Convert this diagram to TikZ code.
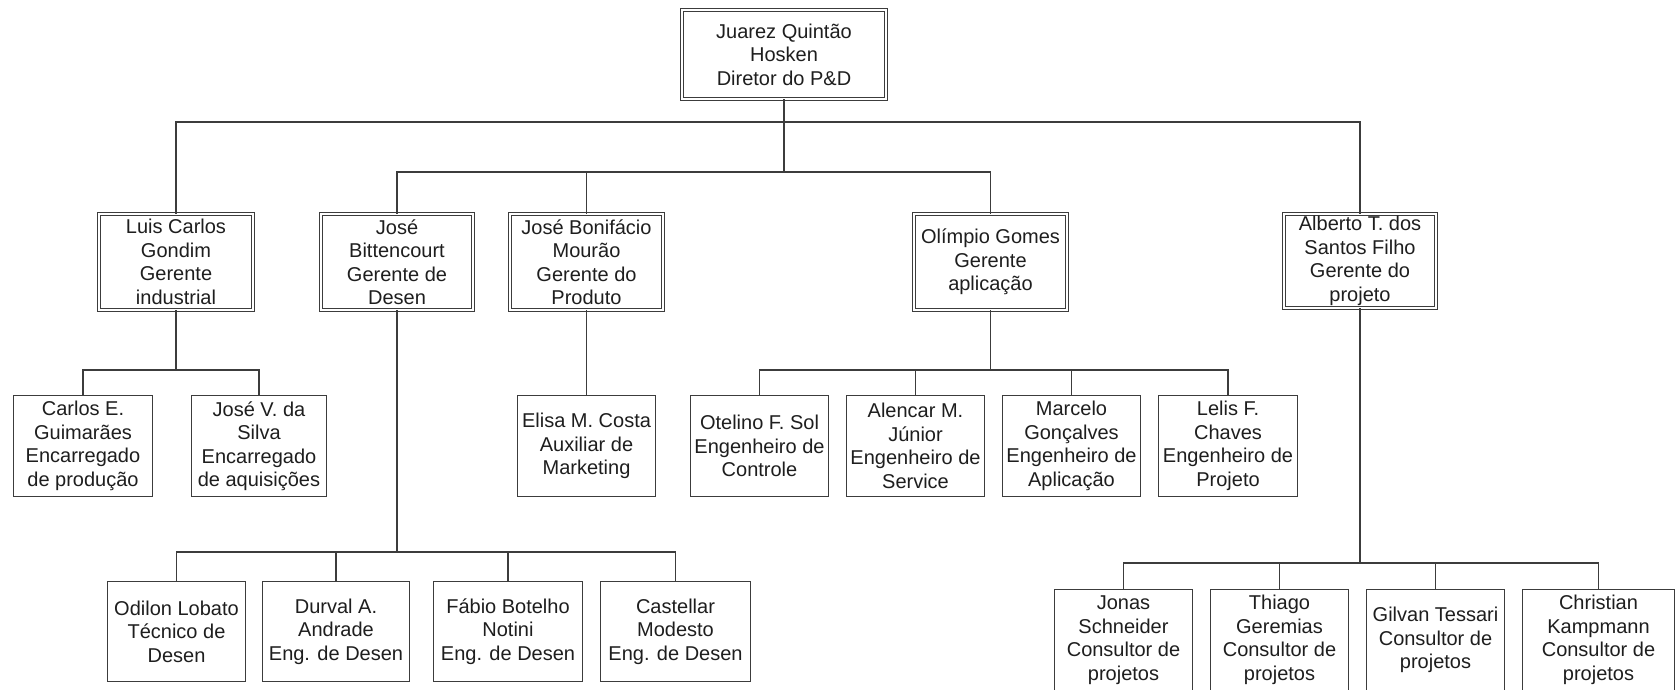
\documentclass[tikz,border=0pt]{standalone}
\usepackage{fontspec}
\setmainfont{Liberation Sans}
\definecolor{ln}{HTML}{3C3C3C}
\definecolor{txt}{HTML}{1E1E1E}
\begin{document}
\begin{tikzpicture}[x=1pt,y=-1pt,
  every node/.style={font=\fontsize{20}{23.5}\selectfont, text=txt, align=center, inner sep=0pt},
  box/.style={draw=ln, line width=1.3pt, fill=white, rectangle},
  mgr/.style={draw=ln, line width=1.1pt, double=white, double distance=2.2pt, rectangle},
  link/.style={draw=ln, line width=1.2pt}]
\useasboundingbox (0,0) rectangle (1679,689);
\fill[white] (0,0) rectangle (1679,689);
\clip (0,0) rectangle (1679,689);

% director
\node[mgr, minimum width=203.6pt, minimum height=88.6pt] (juarez) at (784,54.5)
  {Juarez Quintão\\Hosken\\Diretor do P\&D};

% managers
\node[mgr, minimum width=153.6pt, minimum height=95.6pt] (luis) at (176,262)
  {Luis Carlos\\Gondim\\Gerente\\industrial};
\node[mgr, minimum width=151.6pt, minimum height=95.6pt] (bitt) at (397,262)
  {José\\Bittencourt\\Gerente de\\Desen};
\node[mgr, minimum width=152.6pt, minimum height=95.6pt] (bonif) at (586.5,262)
  {José Bonifácio\\Mourão\\Gerente do\\Produto};
\node[mgr, minimum width=152.6pt, minimum height=95.6pt] (olimpio) at (990.5,262)
  {Olímpio Gomes\\Gerente\\aplicação};
\node[mgr, minimum width=151.6pt, minimum height=93.6pt] (alberto) at (1360,261)
  {Alberto T. dos\\Santos Filho\\Gerente do\\projeto};

% second level staff
\node[box, minimum width=138.7pt, minimum height=100.7pt] (carlos) at (83,446)
  {Carlos E.\\Guimarães\\Encarregado\\de produção};
\node[box, minimum width=134.7pt, minimum height=100.7pt] (josev) at (259,446)
  {José V. da\\Silva\\Encarregado\\de aquisições};
\node[box, minimum width=137.7pt, minimum height=100.7pt] (elisa) at (586.5,446)
  {Elisa M. Costa\\Auxiliar de\\Marketing};
\node[box, minimum width=137.7pt, minimum height=100.7pt] (otelino) at (759.5,446)
  {Otelino F. Sol\\Engenheiro de\\Controle};
\node[box, minimum width=137.7pt, minimum height=100.7pt] (alencar) at (915.5,446)
  {Alencar M.\\Júnior\\Engenheiro de\\Service};
\node[box, minimum width=137.7pt, minimum height=100.7pt] (marcelo) at (1071.5,446)
  {Marcelo\\Gonçalves\\Engenheiro de\\Aplicação};
\node[box, minimum width=138.7pt, minimum height=100.7pt] (lelis) at (1228,446)
  {Lelis F.\\Chaves\\Engenheiro de\\Projeto};

% development team
\node[box, minimum width=137.7pt, minimum height=99.7pt] (odilon) at (176.5,631.5)
  {Odilon Lobato\\Técnico de\\Desen};
\node[box, minimum width=146.7pt, minimum height=99.7pt] (durval) at (336,631.5)
  {Durval A.\\Andrade\\Eng. de Desen};
\node[box, minimum width=148.7pt, minimum height=99.7pt] (fabio) at (508,631.5)
  {Fábio Botelho\\Notini\\Eng. de Desen};
\node[box, minimum width=149.7pt, minimum height=99.7pt] (castellar) at (675.5,631.5)
  {Castellar\\Modesto\\Eng. de Desen};

% project consultants
\node[box, minimum width=137.7pt, minimum height=100.7pt] (jonas) at (1123.5,640)
  {Jonas\\Schneider\\Consultor de\\projetos};
\node[box, minimum width=137.7pt, minimum height=100.7pt] (thiago) at (1279.5,640)
  {Thiago\\Geremias\\Consultor de\\projetos};
\node[box, minimum width=137.7pt, minimum height=100.7pt] (gilvan) at (1435.5,640)
  {Gilvan Tessari\\Consultor de\\projetos};
\node[box, minimum width=151.7pt, minimum height=100.7pt] (christian) at (1598.5,640)
  {Christian\\Kampmann\\Consultor de\\projetos};

% bus levels
\coordinate (busA) at (0,122);
\coordinate (busB) at (0,172);
\coordinate (busC) at (0,370);
\coordinate (busD) at (0,552);
\coordinate (busE) at (0,563);

% director to managers
\draw[link] (juarez.south) -- (juarez.south |- busB);
\draw[link] (luis.north) -- (luis.north |- busA) -| (alberto.north);
\draw[link] (bitt.north) -- (bitt.north |- busB) -| (olimpio.north);
\draw[link] (bonif.north) -- (bonif.north |- busB);

% managers to staff
\draw[link] (luis.south) -- (luis.south |- busC);
\draw[link] (carlos.north) -- (carlos.north |- busC) -| (josev.north);
\draw[link] (bonif.south) -- (elisa.north);
\draw[link] (olimpio.south) -- (olimpio.south |- busC);
\draw[link] (otelino.north) -- (otelino.north |- busC) -| (lelis.north);
\draw[link] (alencar.north) -- (alencar.north |- busC);
\draw[link] (marcelo.north) -- (marcelo.north |- busC);

\draw[link] (bitt.south) -- (bitt.south |- busD);
\draw[link] (odilon.north) -- (odilon.north |- busD) -| (castellar.north);
\draw[link] (durval.north) -- (durval.north |- busD);
\draw[link] (fabio.north) -- (fabio.north |- busD);

\draw[link] (alberto.south) -- (alberto.south |- busE);
\draw[link] (jonas.north) -- (jonas.north |- busE) -| (christian.north);
\draw[link] (thiago.north) -- (thiago.north |- busE);
\draw[link] (gilvan.north) -- (gilvan.north |- busE);
\end{tikzpicture}
\end{document}
